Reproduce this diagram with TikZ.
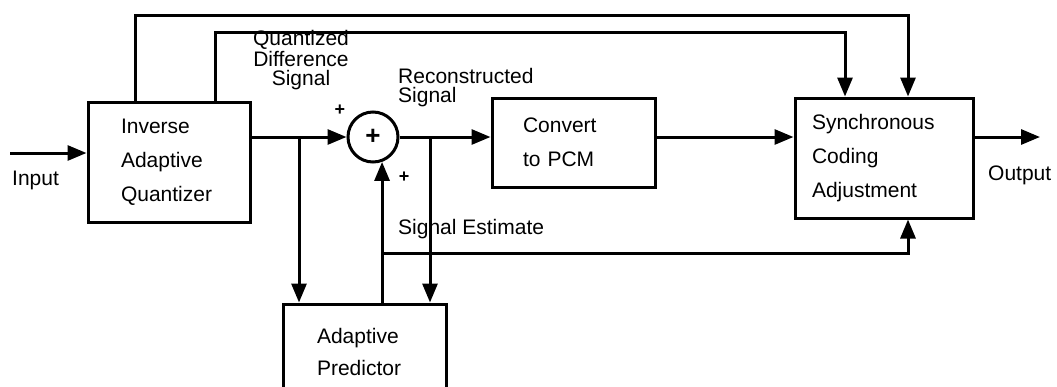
\documentclass[tikz,border=0pt]{standalone}
\usepackage{fontspec}
\setmainfont{Liberation Sans}
\usepackage{tikz}
\usetikzlibrary{arrows.meta, positioning, calc}

\begin{document}
\begin{tikzpicture}[
  x=1pt, y=-1pt,
  block/.style={rectangle, draw=black, line width=3pt, align=left,
                font=\fontsize{21}{34}\selectfont, inner ysep=0pt},
  lbl/.style={font=\fontsize{21}{19}\selectfont, inner sep=0pt},
  sign/.style={font=\fontsize{18}{18}\selectfont\bfseries, inner sep=0pt},
  arr/.style={-{Triangle[length=19pt, width=15pt]}, line width=3pt}
]
\useasboundingbox (0,0) rectangle (1057,386);
\clip (0,0) rectangle (1057,386);

\node[block, minimum width=162pt, minimum height=120pt, text width=96pt, inner xsep=33pt]
  (iaq) at (169,162) {Inverse\\ Adaptive\\ Quantizer};
\node[circle, draw=black, line width=3pt, minimum size=50pt, inner sep=0pt,
      font=\fontsize{26}{26}\selectfont\bfseries] (sum) at (373,137) {+};
\node[block, minimum width=163pt, minimum height=89pt, text width=101pt, inner xsep=31pt]
  (conv) at (573.5,142.5) {Convert\\ to PCM};
\node[block, minimum width=178pt, minimum height=120pt, text width=144pt, inner xsep=17pt]
  (sync) at (884,158) {Synchronous\\ Coding\\ Adjustment};
\node[block, minimum width=163pt, minimum height=96pt, text width=95pt, inner xsep=34pt,
      font=\fontsize{21}{32}\selectfont]
  (pred) at (364.5,352) {Adaptive\\ Predictor};

% helper points
\coordinate (in) at (10,153);
\coordinate (out) at (1040,137);
\coordinate (top1) at (908,15);
\coordinate (top2) at (845,32);
\coordinate (b1) at (299,137);
\coordinate (b2) at (430,137);
\coordinate (se) at (382,253);

\draw[arr] (in) -- (iaq.west |- in);
\draw[arr] (iaq.east |- sum) -- (sum.west);
\draw[arr] (sum.east) -- (conv.west |- sum);
\draw[arr] (conv.east |- sum) -- (sync.west |- sum);
\draw[arr] (sync.east |- sum) -- (out);

\draw[arr] ([xshift=49pt]iaq.north west) |- (top1) -- (top1 |- sync.north);
\draw[arr] ([xshift=129pt]iaq.north west) |- (top2) -- (top2 |- sync.north);

\draw[arr] (b1) -- (b1 |- pred.north);
\draw[arr] (b2) -- (b2 |- pred.north);
\draw[arr] (sum.-70 |- pred.north) -- (sum.-70);
\draw[arr] (se) -| (top1 |- sync.south);

\node[lbl, anchor=west] (inlbl) at (12,180) {Input};
\node[lbl, anchor=west] (outlbl) at (988,175) {Output};
\node[sign] (p1) at (340,110) {+};
\node[sign] (p2) at (404,177) {+};
\node[lbl, align=center] (qds) at (301,60) {Quantized\\ Difference\\ Signal};
\node[lbl, align=left, anchor=west] (rs) at (398,88) {Reconstructed\\ Signal};
\node[lbl, anchor=west] (sest) at (398,229) {Signal Estimate};
\end{tikzpicture}
\end{document}
